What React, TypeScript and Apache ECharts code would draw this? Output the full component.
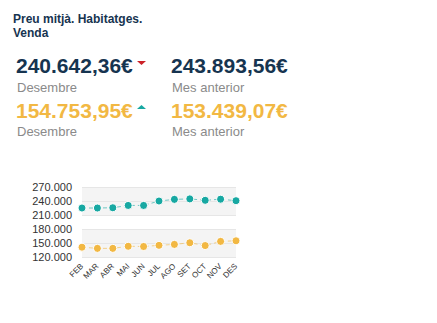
import React, { useEffect, useRef } from "react";
import * as echarts from "echarts";

const months = ["FEB", "MAR", "ABR", "MAI", "JUN", "JUL", "AGO", "SET", "OCT", "NOV", "DES"];
const seriesA = [225000, 225000, 225500, 230500, 230500, 240000, 243500, 244500, 241500, 243893.56, 240642.36];
const seriesB = [141000, 138500, 138500, 143000, 142500, 145000, 147000, 150500, 144500, 153439.07, 154753.95];
const yTicks = [120000, 150000, 180000, 210000, 240000, 270000];

const titleLines = ["Preu mitjà. Habitatges.", "Venda"];
const kpiA = { current: "240.642,36€", previous: "243.893,56€" };
const kpiB = { current: "154.753,95€", previous: "153.439,07€" };
const labelCurrent = "Desembre";
const labelPrevious = "Mes anterior";

const TEAL = "#17a8a2";
const ORANGE = "#f2b843";
const NAVY = "#163450";
const GREY = "#8a8a8a";
const RED = "#cc2229";

const fmt = (v: number) => {
  const s = Math.round(v).toString();
  return s.replace(/\B(?=(\d{3})+(?!\d))/g, ".");
};

export default function App() {
  const ref = useRef<HTMLDivElement>(null);
  useEffect(() => {
    if (!ref.current) return;
    const chart = echarts.init(ref.current, undefined, { renderer: "svg" });
    const font = "Liberation Sans, Arial, Helvetica, sans-serif";
    const txt = (x: number, y: number, text: string, size: number, color: string, bold = false) => ({
      type: "text",
      x,
      y,
      style: {
        text,
        fontSize: size,
        fontWeight: bold ? "bold" : "normal",
        fontFamily: font,
        fill: color,
        textVerticalAlign: "middle",
      },
    });
    chart.setOption({
      animation: false,
      textStyle: { fontFamily: font },
      graphic: [
        txt(13, 19, titleLines[0], 12, NAVY, true),
        txt(13, 33, titleLines[1], 12, NAVY, true),
        txt(16, 65, kpiA.current, 21, NAVY, true),
        txt(17, 87, labelCurrent, 13, GREY),
        txt(171, 65, kpiA.previous, 21, NAVY, true),
        txt(172, 87, labelPrevious, 13, GREY),
        txt(16, 110, kpiB.current, 21, ORANGE, true),
        txt(17, 131, labelCurrent, 13, GREY),
        txt(171, 110, kpiB.previous, 21, ORANGE, true),
        txt(172, 131, labelPrevious, 13, GREY),
        {
          type: "polygon",
          shape: { points: [[137, 61], [146, 61], [141.5, 65]] },
          style: { fill: RED },
        },
        {
          type: "polygon",
          shape: { points: [[137, 109], [146, 109], [141.5, 105]] },
          style: { fill: TEAL },
        },
      ],
      grid: { left: 82, right: 201, top: 187, bottom: 66, containLabel: false },
      xAxis: {
        type: "category",
        data: months,
        boundaryGap: false,
        axisLine: { show: false },
        axisTick: { show: false },
        axisLabel: { rotate: 45, fontSize: 8, color: "#333", margin: 8, interval: 0 },
      },
      yAxis: {
        type: "value",
        min: yTicks[0],
        max: yTicks[yTicks.length - 1],
        interval: 30000,
        axisLine: { show: false },
        axisTick: { show: false },
        axisLabel: { fontSize: 11, color: "#333", margin: 10, formatter: (v: number) => fmt(v) },
        splitLine: { lineStyle: { color: "#e6e6e6", width: 1 } },
        splitArea: { show: true, areaStyle: { color: ["#f4f4f4", "#f4f4f4", "#ffffff"] } },
      },
      series: [
        {
          type: "line",
          data: seriesA,
          symbol: "circle",
          symbolSize: 8,
          itemStyle: { color: TEAL, borderColor: "#fff", borderWidth: 1 },
          lineStyle: { color: TEAL, width: 1, type: [4, 3], opacity: 0.6 },
        },
        {
          type: "line",
          data: seriesB,
          symbol: "circle",
          symbolSize: 8,
          itemStyle: { color: ORANGE, borderColor: "#fff", borderWidth: 1 },
          lineStyle: { color: ORANGE, width: 1, type: [4, 3], opacity: 0.6 },
        },
      ],
    });
    return () => chart.dispose();
  }, []);
  return (
    <div
      ref={ref}
      style={{ position: "fixed", left: 0, top: 0, width: 437, height: 323, background: "#fff" }}
    />
  );
}
